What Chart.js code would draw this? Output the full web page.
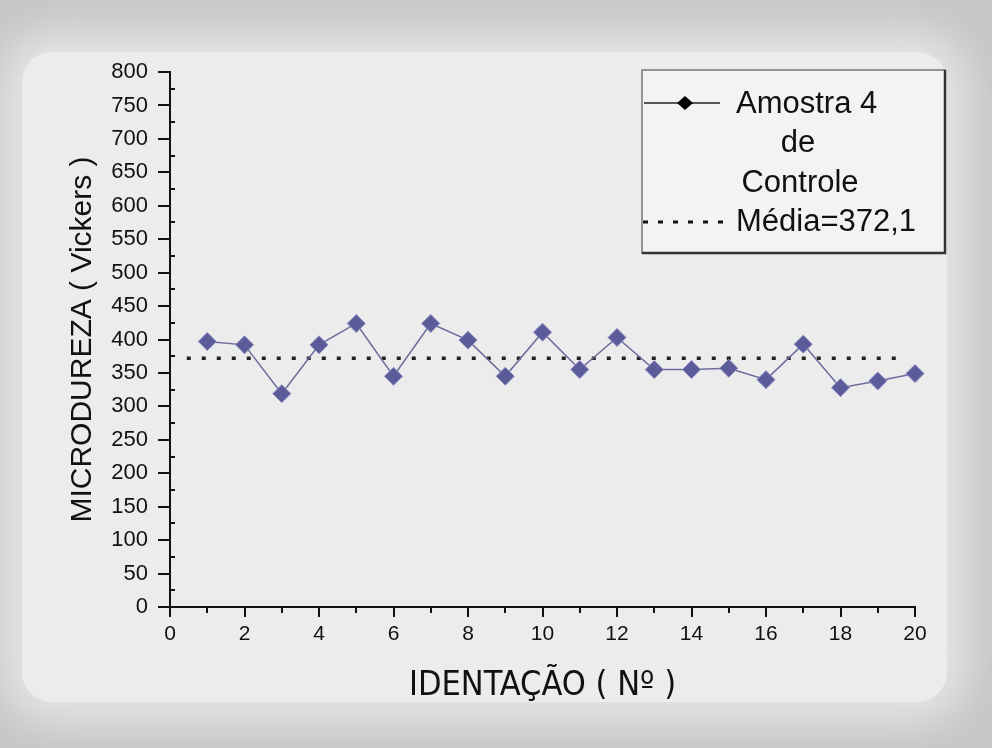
<!DOCTYPE html>
<html>
<head>
<meta charset="utf-8">
<script src="https://cdn.jsdelivr.net/npm/chart.js@4.4.1/dist/chart.umd.min.js"></script>
<style>
  html, body { margin: 0; padding: 0; }
  body { width: 992px; height: 748px; background: #c6c6c6; position: relative; overflow: hidden; }
  #paper { position: absolute; left: 22px; top: 52px; width: 925px; height: 650px; background: #ececec;
           box-shadow: 0 0 40px 22px #e4e4e4; border-radius: 30px; }
  #c { position: absolute; left: 0; top: 0; }
</style>
</head>
<body>
<div id="paper"></div>
<canvas id="c" width="992" height="748"></canvas>
<script>
// ---- data ----
const indentacao = [1, 2, 3, 4, 5, 6, 7, 8, 9, 10, 11, 12, 13, 14, 15, 16, 17, 18, 19, 20];
const microdureza = [397, 392, 319, 392, 424, 345, 424, 399, 345, 411, 355, 403, 355, 355, 357, 340, 393, 328, 338, 349];
const mediaValor = 372.1;
const mediaX = [0.45, 19.7];
const xMinorTicks = [1, 3, 5, 7, 9, 11, 13, 15, 17, 19];
const yMinorTicks = [25, 75, 125, 175, 225, 275, 325, 375, 425, 475, 525, 575, 625, 675, 725, 775];
const serieLabel = ['Amostra 4', 'de', 'Controle'];
const mediaLabel = 'Média=372,1';

const narrow = "'Liberation Sans Narrow', 'DejaVu Sans Condensed', 'Liberation Sans', Arial, sans-serif";
const sans = "'Liberation Sans', Arial, sans-serif";

const minorTicksPlugin = {
  id: 'minorTicks',
  afterDraw(chart) {
    const { ctx, scales: { x, y } } = chart;
    ctx.save();
    ctx.strokeStyle = '#111';
    ctx.lineWidth = 2;
    ctx.beginPath();
    xMinorTicks.forEach(v => {
      const px = Math.round(x.getPixelForValue(v));
      ctx.moveTo(px, y.bottom);
      ctx.lineTo(px, y.bottom + 6);
    });
    yMinorTicks.forEach(v => {
      const py = Math.round(y.getPixelForValue(v));
      ctx.moveTo(x.left, py);
      ctx.lineTo(x.left + 5, py);
    });
    ctx.stroke();
    ctx.restore();
  }
};

const boxLegendPlugin = {
  id: 'boxLegend',
  afterDraw(chart) {
    const ctx = chart.ctx;
    const bx = 642, by = 70, bw = 303, bh = 183;
    ctx.save();
    ctx.fillStyle = '#f3f3f3';
    ctx.fillRect(bx, by, bw, bh);
    ctx.strokeStyle = '#777';
    ctx.lineWidth = 1.5;
    ctx.strokeRect(bx, by, bw, bh);
    ctx.strokeStyle = '#333';
    ctx.lineWidth = 2.5;
    ctx.beginPath();
    ctx.moveTo(bx + bw, by); ctx.lineTo(bx + bw, by + bh); ctx.lineTo(bx, by + bh);
    ctx.stroke();

    // series sample
    ctx.strokeStyle = '#222';
    ctx.lineWidth = 1.5;
    ctx.beginPath();
    ctx.moveTo(bx + 2, 103); ctx.lineTo(bx + 78, 103);
    ctx.stroke();
    ctx.fillStyle = '#000';
    ctx.beginPath();
    ctx.moveTo(685 - 8, 103); ctx.lineTo(685, 103 - 7); ctx.lineTo(685 + 8, 103); ctx.lineTo(685, 103 + 7);
    ctx.closePath();
    ctx.fill();

    // mean sample
    ctx.strokeStyle = '#111';
    ctx.lineWidth = 3;
    ctx.setLineDash([5, 10]);
    ctx.beginPath();
    ctx.moveTo(bx + 1, 222); ctx.lineTo(bx + 90, 222);
    ctx.stroke();
    ctx.setLineDash([]);

    ctx.fillStyle = '#111';
    ctx.font = "31px " + sans;
    ctx.textBaseline = 'middle';
    ctx.textAlign = 'left';
    ctx.fillText(serieLabel[0], 736, 104);
    ctx.textAlign = 'center';
    ctx.fillText(serieLabel[1], 798, 143);
    ctx.fillText(serieLabel[2], 800, 183);
    ctx.textAlign = 'left';
    ctx.fillText(mediaLabel, 736, 222);
    ctx.restore();
  }
};

new Chart(document.getElementById('c'), {
  type: 'line',
  data: {
    datasets: [
      {
        label: serieLabel.join(' '),
        data: indentacao.map((x, i) => ({ x: x, y: microdureza[i] })),
        borderColor: '#6c6c9c',
        borderWidth: 1.5,
        backgroundColor: '#5a5a98',
        pointStyle: 'rectRot',
        pointRadius: 9,
        pointBackgroundColor: '#5b5b9a',
        pointBorderColor: '#8a8ac0',
        pointBorderWidth: 1,
        tension: 0,
        clip: false,
        order: 1
      },
      {
        label: mediaLabel,
        data: mediaX.map(x => ({ x: x, y: mediaValor })),
        borderColor: '#222',
        borderWidth: 3.5,
        borderDash: [4, 11],
        borderCapStyle: 'butt',
        pointRadius: 0,
        clip: false,
        order: 2
      }
    ]
  },
  options: {
    responsive: false,
    animation: false,
    layout: { padding: { top: 72, right: 77, left: 0, bottom: 0 } },
    plugins: { legend: { display: false }, tooltip: { enabled: false } },
    scales: {
      x: {
        type: 'linear',
        min: 0, max: 20,
        afterFit(s) { s.height = 141; },
        ticks: { stepSize: 2, color: '#111', padding: 5, font: { family: sans, size: 21 } },
        grid: { drawOnChartArea: false, drawTicks: true, tickLength: 10, tickColor: '#111', lineWidth: 2 },
        border: { display: true, color: '#111', width: 2 },
        title: { display: true, text: 'IDENTAÇÃO ( Nº )', color: '#111',
                 font: { family: narrow, size: 34, weight: 'normal' }, padding: { top: 0, bottom: 41 } }
      },
      y: {
        type: 'linear',
        min: 0, max: 800,
        afterFit(s) { s.width = 170; },
        ticks: { stepSize: 50, color: '#111', padding: 10, font: { family: sans, size: 22 } },
        grid: { drawOnChartArea: false, drawTicks: true, tickLength: 12, tickColor: '#111', lineWidth: 2 },
        border: { display: true, color: '#111', width: 2 },
        title: { display: true, text: 'MICRODUREZA ( Vickers )', color: '#111',
                 font: { family: sans, size: 30, weight: 'normal' }, padding: { top: 65, bottom: 0 } }
      }
    }
  },
  plugins: [minorTicksPlugin, boxLegendPlugin]
});
</script>
</body>
</html>
